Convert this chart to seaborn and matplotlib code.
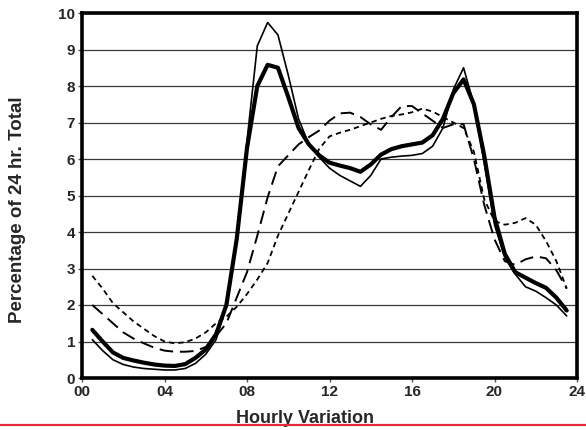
import numpy as np
import pandas as pd
import matplotlib
matplotlib.use("Agg")
import matplotlib.pyplot as plt
from matplotlib.lines import Line2D
import seaborn as sns

# half-hour readings of the four hourly-variation curves
hours = np.arange(0.5, 24.0, 0.5)

thin_solid = [1.05, 0.75, 0.50, 0.37, 0.30, 0.26, 0.24, 0.22, 0.22, 0.26, 0.40, 0.65,
              1.05, 2.0, 3.8, 6.5, 9.1, 9.74, 9.4, 8.3, 7.1, 6.4, 6.05, 5.75,
              5.55, 5.4, 5.25, 5.55, 6.0, 6.05, 6.08, 6.1, 6.15, 6.35, 6.85, 7.9,
              8.5, 7.5, 5.9, 4.2, 3.3, 2.85, 2.5, 2.38, 2.2, 2.0, 1.7]

thick_solid = [1.32, 1.0, 0.7, 0.55, 0.48, 0.42, 0.37, 0.34, 0.33, 0.38, 0.55, 0.78,
               1.2, 2.0, 3.8, 6.3, 8.0, 8.58, 8.5, 7.7, 6.85, 6.4, 6.1, 5.9,
               5.82, 5.75, 5.65, 5.85, 6.12, 6.27, 6.35, 6.4, 6.45, 6.65, 7.1, 7.8,
               8.18, 7.5, 6.1, 4.4, 3.4, 2.9, 2.75, 2.6, 2.47, 2.2, 1.85]

long_dash = [2.0, 1.75, 1.5, 1.25, 1.08, 0.95, 0.83, 0.75, 0.72, 0.72, 0.74, 0.85,
             1.15, 1.5, 2.2, 2.9, 3.9, 4.95, 5.8, 6.1, 6.4, 6.6, 6.78, 7.05,
             7.25, 7.27, 7.15, 6.95, 6.8, 7.15, 7.45, 7.45, 7.25, 7.05, 6.85, 6.95,
             6.95, 6.0, 4.75, 3.8, 3.2, 3.1, 3.25, 3.33, 3.28, 2.95, 2.45]

short_dash = [2.8, 2.45, 2.05, 1.8, 1.55, 1.35, 1.15, 1.0, 0.95, 0.98, 1.08, 1.25,
              1.5, 1.68, 1.95, 2.3, 2.7, 3.15, 3.9, 4.5, 5.1, 5.7, 6.28, 6.62,
              6.72, 6.8, 6.9, 7.0, 7.1, 7.18, 7.22, 7.28, 7.38, 7.3, 7.15, 7.0,
              6.85, 6.2, 4.9, 4.3, 4.2, 4.25, 4.38, 4.2, 3.75, 3.2, 2.45]

x_ticks = [0, 4, 8, 12, 16, 20, 24]
x_tick_labels = ["00", "04", "08", "12", "16", "20", "24"]

df = pd.DataFrame({"hour": hours, "thin": thin_solid, "thick": thick_solid,
                   "long": long_dash, "short": short_dash})

sns.set_style("white")
plt.rcParams["font.family"] = ["Liberation Sans", "DejaVu Sans"]
plt.rcParams["font.weight"] = "bold"

fig = plt.figure(figsize=(5.86, 4.30), dpi=100)
ax = fig.add_axes([82 / 586, 1 - 378 / 430, 495 / 586, 365 / 430])

ax.yaxis.grid(True, color="#3a3a3a", lw=0.9)
ax.set_axisbelow(True)

sns.lineplot(data=df, x="hour", y="short", ax=ax, color="black", lw=1.3,
             linestyle=(0, (3, 2.2)))
sns.lineplot(data=df, x="hour", y="long", ax=ax, color="black", lw=1.4,
             linestyle=(0, (7, 3.5)))
sns.lineplot(data=df, x="hour", y="thin", ax=ax, color="black", lw=1.2)
sns.lineplot(data=df, x="hour", y="thick", ax=ax, color="black", lw=3.0)
for ln in ax.get_lines():
    ln.set_solid_joinstyle("round")

ax.set_xlim(0, 24)
ax.set_ylim(0, 10)
ax.set_xticks(x_ticks)
ax.set_xticklabels(x_tick_labels)
ax.set_yticks(range(0, 11))
ax.tick_params(axis="both", direction="out", length=3, width=1, labelsize=11,
               color="#555555", pad=2, left=True, bottom=True)
for lab in ax.get_xticklabels() + ax.get_yticklabels():
    lab.set_fontweight("bold")
ax.set_xlabel("")
ax.set_ylabel("")

for s in ax.spines.values():
    s.set_visible(True)
    s.set_color("black")
    s.set_linewidth(2.6)

fig.text(305 / 586, 1 - 423 / 430, "Hourly Variation", ha="center", va="baseline",
         fontsize=13, fontweight="bold")
fig.text(18 / 586, 1 - 210 / 430, "Percentage of 24 hr. Total", ha="center",
         va="center", rotation=90, fontsize=13.5, fontweight="bold")

fig.add_artist(Line2D([0, 1], [1 - 424.5 / 430] * 2, transform=fig.transFigure,
                      color="#e8283c", lw=1.6, zorder=10))

fig.savefig("out.png", dpi=100)
